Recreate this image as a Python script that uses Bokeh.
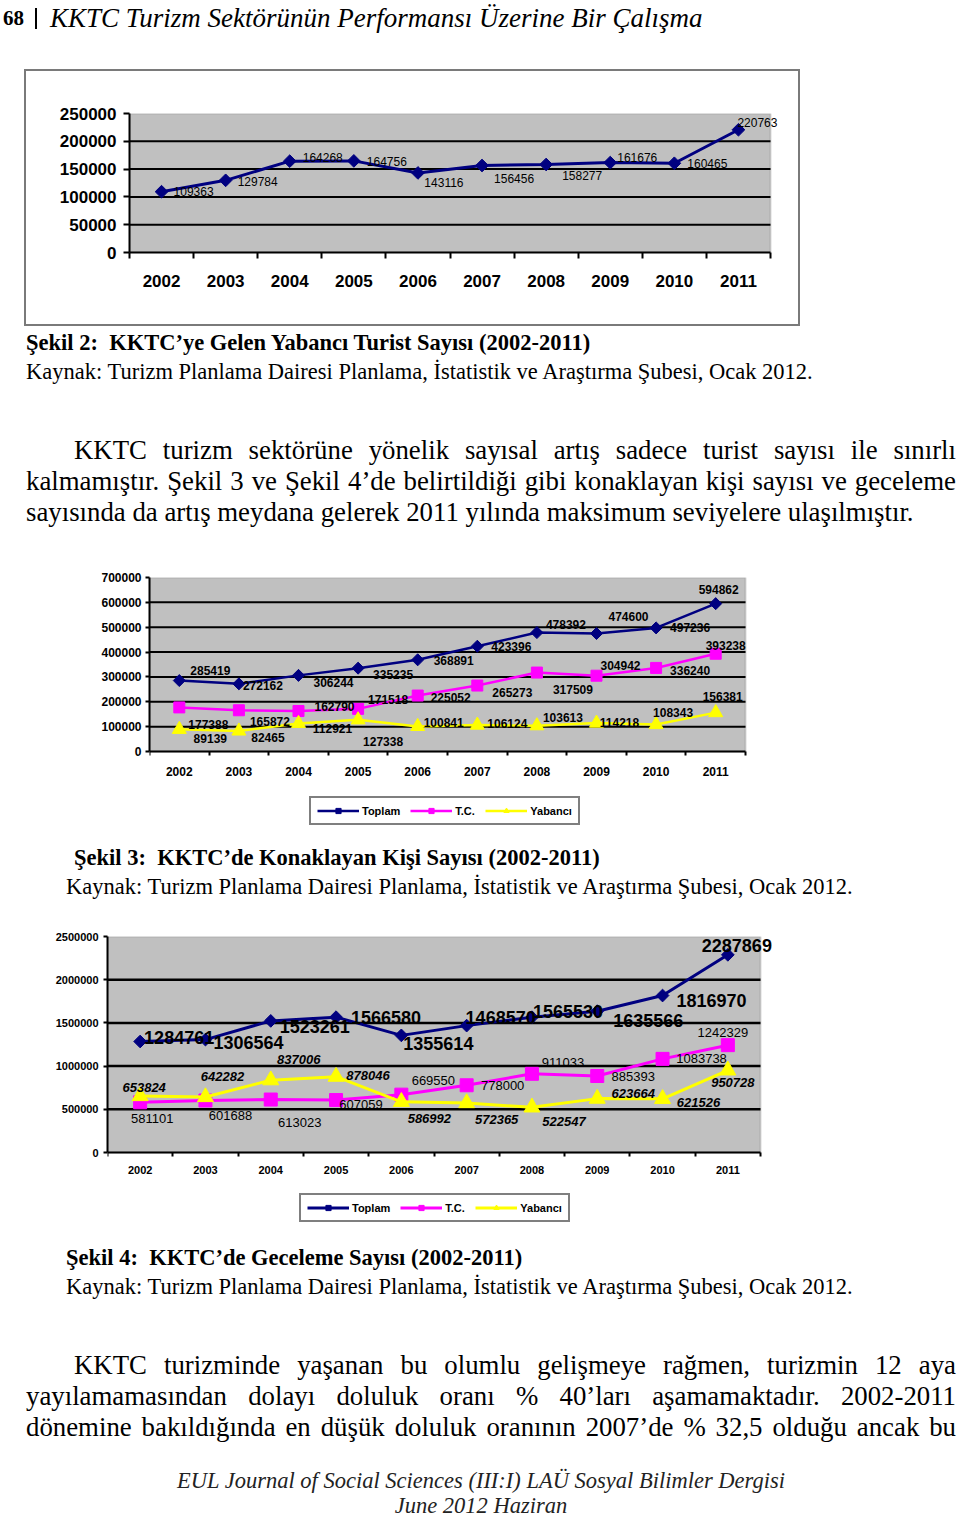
from bokeh.plotting import figure
from bokeh.layouts import column
from bokeh.models import (Div, Range1d, FixedTicker, BasicTickFormatter, BoxAnnotation,
                          ColumnDataSource, Legend, LegendItem)
from bokeh.core.properties import value
from bokeh.embed import file_html
from bokeh.resources import INLINE

# ---------------- data ----------------
years = ["2002", "2003", "2004", "2005", "2006", "2007", "2008", "2009", "2010", "2011"]
turist = [109363, 129784, 164268, 164756, 143116, 156456, 158277, 161676, 160465, 220763]

konak_toplam = [285419, 272162, 306244, 335235, 368891, 423396, 478392, 474600, 497236, 594862]
konak_tc = [177388, 165872, 162790, 171518, 225052, 265273, 317509, 304942, 336240, 393238]
konak_yab = [89139, 82465, 112921, 127338, 100841, 106124, 103613, 114218, 108343, 156381]

gece_toplam = [1284761, 1306564, 1523261, 1566580, 1355614, 1468570, 1565530, 1635566, 1816970, 2287869]
gece_tc = [581101, 601688, 613023, 607059, 669550, 778000, 911033, 885393, 1083738, 1242329]
gece_yab = [653824, 642282, 837006, 878046, 586992, 572365, 522547, 623664, 621526, 950728]

series_names = ["Toplam", "T.C.", "Yabancı"]

# ---------------- label offsets (screen px, styling only) ----------------
c1_dx = [32, 32, 33, 33, 26, 32, 36, 27, 33, 19]
c1_dy = [0, 1, -4, 1, 10, 13, 11, -5, 0, -7]

c3_top_dx = [31, 24, 35, 35, 36, 34, 29, 32, 34, 3]
c3_top_dy = [-10, 2, 7, 6, 1, 0, -8, -17, 0, -14]
c3_tc_dx = [29, 31, 36, 30, 33, 35, 36, 24, 34, 10]
c3_tc_dy = [17, 11, -5, -9, 2, 7, 17, -10, 3, -8]
c3_yab_dx = [31, 29, 34, 25, 26, 30, 26, 23, 17, 7]
c3_yab_dy = [9, 6, 5, 22, -4, -2, -8, -1, -12, -16]

c4_top_dx = [39, 43, 44, 50, 37, 34, 36, 51, 49, 9]
c4_top_dy = [-4, 3, 6, 0, 8, -8, -6, 9, 5, -9]
c4_tc_dx = [12, 25, 29, 25, 32, 36, 31, 36, 39, -5]
c4_tc_dy = [16, 15, 23, 4, -14, 0, -11, 0, 0, -13]
c4_yab_dx = [4, 17, 28, 32, 28, 30, 32, 36, 36, 5]
c4_yab_dy = [-9, -21, -21, -1, 17, 16, 14, -5, 4, 12]

NAVY = "#000080"
MAG = "#FF00FF"
YEL = "#FFFF00"
GREY = "#C0C0C0"
SANS = "Liberation Sans"
xs = list(range(len(years)))
N = len(years)

# common border sizes (Bokeh aligns plot borders inside a column)
BL = 103   # left border
BR = 8     # right border
EXT = 20   # extra white frame room on the right so labels are not clipped


def base_chart(cat_w, plot_h, below_px, top, bottom, ymax, ystep, ylab_size, xlab_size,
               tick_out, ylab_standoff, xlab_standoff, grid_w, margin):
    width = BL + cat_w + EXT + BR
    height = top + plot_h + below_px + bottom
    xend = N - 0.5 + EXT * N / cat_w
    ystart = -below_px * ymax / plot_h
    p = figure(width=width, height=height, x_range=Range1d(-0.5, xend),
               y_range=Range1d(ystart, ymax), output_backend="svg", toolbar_location=None,
               min_border_left=BL, min_border_right=BR, min_border_top=top,
               min_border_bottom=bottom, margin=margin)
    p.background_fill_color = "white"
    p.border_fill_color = "white"
    p.outline_line_color = None
    p.xgrid.visible = False
    p.ygrid.visible = False
    # grey plot area with grey top/right edge
    p.add_layout(BoxAnnotation(left=-0.5, right=N - 0.5, bottom=0, fill_color=GREY,
                               fill_alpha=1.0, line_color="#808080", line_width=2,
                               level="image"))
    gy = list(range(ystep, ymax, ystep))
    p.segment(x0=-0.5, x1=N - 0.5, y0=gy, y1=gy, line_color="black", line_width=grid_w)
    # y axis
    ya = p.yaxis[0]
    ya.bounds = (0, ymax)
    ya.ticker = FixedTicker(ticks=list(range(0, ymax + 1, ystep)))
    ya.formatter = BasicTickFormatter(use_scientific=False)
    ya.axis_line_color = "black"
    ya.axis_line_width = 2
    ya.major_tick_line_color = "black"
    ya.major_tick_line_width = 2
    ya.major_tick_out = tick_out
    ya.major_tick_in = 0
    ya.minor_tick_line_color = None
    ya.major_label_text_font = SANS
    ya.major_label_text_font_style = "bold"
    ya.major_label_text_font_size = ylab_size
    ya.major_label_text_color = "black"
    ya.major_label_standoff = ylab_standoff
    # x axis (drawn at y = 0 when the frame reaches below zero)
    xa = p.xaxis[0]
    if below_px > 0:
        xa.fixed_location = 0
    xa.bounds = (-0.5, N - 0.5)
    xa.ticker = FixedTicker(ticks=xs, minor_ticks=[i - 0.5 for i in range(N + 1)])
    xa.major_label_overrides = {i: y for i, y in enumerate(years)}
    xa.axis_line_color = "black"
    xa.axis_line_width = 2
    xa.major_tick_line_color = None
    xa.major_tick_out = tick_out
    xa.major_tick_in = 0
    xa.minor_tick_line_color = "black"
    xa.minor_tick_line_width = 2
    xa.minor_tick_out = tick_out
    xa.minor_tick_in = 0
    xa.major_label_text_font = SANS
    xa.major_label_text_font_style = "bold"
    xa.major_label_text_font_size = xlab_size
    xa.major_label_text_color = "black"
    xa.major_label_standoff = xlab_standoff
    return p


def add_series(p, vals, color, marker, size, lw, angle=0.0):
    ln = p.line(xs, vals, line_color=color, line_width=lw)
    sc = p.scatter(xs, vals, marker=marker, size=size, angle=angle,
                   fill_color=color, line_color=color)
    return ln, sc


def add_labels(p, vals, dx, dy, size, style):
    src = ColumnDataSource(dict(x=xs, y=vals, t=[str(v) for v in vals], dx=dx, dy=dy))
    p.text(x="x", y="y", text="t", x_offset="dx", y_offset="dy", source=src,
           text_align="center", text_baseline="middle", text_font=value(SANS),
           text_font_size=value(size), text_font_style=style, text_color="black")


def add_legend(p, rends, loc):
    items = [LegendItem(label=n, renderers=list(r)) for n, r in zip(series_names, rends)]
    lg = Legend(items=items, location=loc, orientation="horizontal",
                border_line_color="black", border_line_width=2,
                background_fill_color="white", background_fill_alpha=1.0,
                label_text_font=SANS, label_text_font_style="bold",
                label_text_font_size="11px", label_text_color="black",
                glyph_width=42, glyph_height=13, label_height=13,
                label_standoff=3, spacing=10, padding=6, margin=0)
    p.add_layout(lg)


DIAMOND_ANGLE = 0.7853981634

# ---------------- chart 1 (Şekil 2) ----------------
p1 = base_chart(641, 139, 0, 42, 72, 250000, 50000, "17px", "17px", 6, 7, 16, 2,
                margin=(1, 0, 0, 26))
p1.styles = {"outline": "2px solid #7a7a7a"}
add_series(p1, turist, NAVY, "square", 9, 3, DIAMOND_ANGLE)
add_labels(p1, turist, c1_dx, c1_dy, "12px", "normal")

# ---------------- chart 3 (Şekil 3) ----------------
p2 = base_chart(596, 174, 82, 15, 13, 700000, 100000, "12px", "12px", 4, 4, 11, 2,
                margin=(0, 0, 0, 46))
r_a = add_series(p2, konak_toplam, NAVY, "square", 8.5, 2.5, DIAMOND_ANGLE)
r_b = add_series(p2, konak_tc, MAG, "square", 11, 2.5)
r_c = add_series(p2, konak_yab, YEL, "triangle", 14, 2.5)
add_labels(p2, konak_toplam, c3_top_dx, c3_top_dy, "12px", "bold")
add_labels(p2, konak_tc, c3_tc_dx, c3_tc_dy, "12px", "bold")
add_labels(p2, konak_yab, c3_yab_dx, c3_yab_dy, "12px", "bold")
add_legend(p2, [r_a, r_b, r_c], (160, 8))

# ---------------- chart 4 (Şekil 4) ----------------
p3 = base_chart(653, 216, 78, 14, 12, 2500000, 500000, "11px", "11px", 4, 5, 9, 2.5,
                margin=(0, 0, 0, 4))
g_a = add_series(p3, gece_toplam, NAVY, "square", 9, 3, DIAMOND_ANGLE)
g_b = add_series(p3, gece_tc, MAG, "square", 13, 3)
g_c = add_series(p3, gece_yab, YEL, "triangle", 16, 3)
add_labels(p3, gece_toplam, c4_top_dx, c4_top_dy, "18px", "bold")
add_labels(p3, gece_tc, c4_tc_dx, c4_tc_dy, "13px", "normal")
add_labels(p3, gece_yab, c4_yab_dx, c4_yab_dy, "13px", "bold italic")
add_legend(p3, [g_a, g_b, g_c], (192, 8))


# ---------------- text blocks ----------------
def txt(s, left, yc, size, weight="normal", style="normal", width=None,
        justify=False, center=False, color="#000", lh=None):
    lh = lh or size
    top = yc - lh / 2
    css = (f"position:absolute;left:{left}px;top:{top}px;font-size:{size}px;"
           f"line-height:{lh}px;font-weight:{weight};font-style:{style};color:{color};")
    if justify:
        css += f"width:{width}px;text-align:justify;text-align-last:justify;"
    elif center:
        css += f"width:{width}px;text-align:center;white-space:nowrap;"
    else:
        css += "white-space:nowrap;"
    return f'<div style="{css}">{s}</div>'


def block(h, parts):
    inner = "".join(parts)
    html = (f'<div style="position:relative;width:960px;height:{h}px;overflow:visible;'
            f"font-family:'Liberation Serif',serif;color:#000;\">{inner}</div>")
    return Div(text=html, width=960, height=h, margin=0)


KAYNAK = "Kaynak: Turizm Planlama Dairesi Planlama, İstatistik ve Araştırma Şubesi, Ocak 2012."
CAP = 22.5
BODY = 26.8

divA = block(70, [
    txt("68", 3, 18, 21, weight="bold"),
    '<div style="position:absolute;left:35px;top:8px;width:2px;height:21px;background:#000;"></div>',
    txt("KKTC Turizm Sektörünün Performansı Üzerine Bir Çalışma", 50, 18, 27, style="italic"),
])

divB = block(238, [
    txt("Şekil 2:&nbsp; KKTC’ye Gelen Yabancı Turist Sayısı (2002-2011)", 26, 19, CAP, weight="bold"),
    txt(KAYNAK, 26, 48, CAP),
    txt("KKTC turizm sektörüne yönelik sayısal artış sadece turist sayısı ile sınırlı",
        74, 126, BODY, width=882, justify=True),
    txt("kalmamıştır. Şekil 3 ve Şekil 4’de belirtildiği gibi konaklayan kişi sayısı ve geceleme",
        26, 157, BODY, width=930, justify=True),
    txt("sayısında da artış meydana gelerek 2011 yılında maksimum seviyelere ulaşılmıştır.",
        26, 188, BODY),
])

divC = block(76, [
    txt("Şekil 3:&nbsp; KKTC’de Konaklayan Kişi Sayısı (2002-2011)", 74, 12, CAP, weight="bold"),
    txt(KAYNAK, 66, 41, CAP),
])

divD = block(275, [
    txt("Şekil 4:&nbsp; KKTC’de Geceleme Sayısı (2002-2011)", 66, 16, CAP, weight="bold"),
    txt(KAYNAK, 66, 45, CAP),
    txt("KKTC turizminde yaşanan bu olumlu gelişmeye rağmen, turizmin 12 aya",
        74, 123, BODY, width=882, justify=True),
    txt("yayılamamasından dolayı doluluk oranı % 40’ları aşamamaktadır. 2002-2011",
        26, 154, BODY, width=930, justify=True),
    txt("dönemine bakıldığında en düşük doluluk oranının 2007’de % 32,5 olduğu ancak bu",
        26, 185, BODY, width=930, justify=True),
    txt("EUL Journal of Social Sciences (III:I) LAÜ Sosyal Bilimler Dergisi",
        0, 239, 22.5, style="italic", width=962, center=True, color="#222"),
    txt("June 2012 Haziran", 0, 264, 22.5, style="italic", width=962, center=True,
        color="#222", lh=8),
])

page = column(divA, p1, divB, p2, divC, p3, divD, spacing=0, margin=0)

with open("out.html", "w") as f:
    f.write(file_html(page, INLINE))
